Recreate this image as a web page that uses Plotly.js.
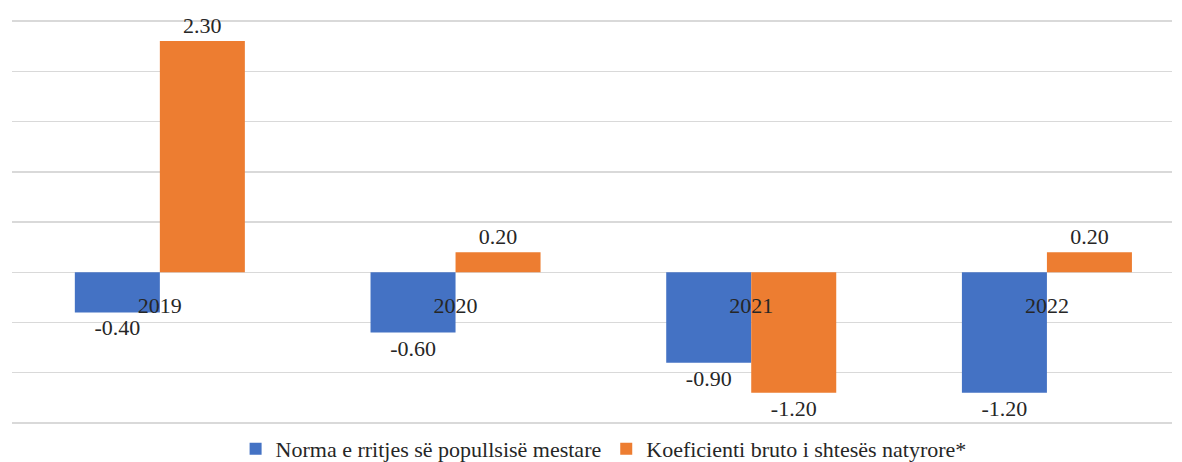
<!DOCTYPE html>
<html>
<head>
<meta charset="utf-8">
<script src="https://cdn.plot.ly/plotly-3.0.1.min.js"></script>
<style>html,body{margin:0;padding:0;background:#fff;}#chart{width:1182px;height:462px;}</style>
</head>
<body>
<div id="chart"></div>
<script>
var years = ["2019", "2020", "2021", "2022"];
var seriesNames = ["Norma e rritjes së popullsisë mestare", "Koeficienti bruto i shtesës natyrore*"];
var normaValues = [-0.40, -0.60, -0.90, -1.20];
var koeficientiValues = [2.30, 0.20, -1.20, 0.20];
var colors = ["#4472C4", "#ED7D31"];

var FONT = "Liberation Serif";
var FS = 22;
function mk(name, vals, col) {
  return {
    type: "bar", name: name, x: years, y: vals,
    marker: {color: col},
    text: vals.map(function(v){return v.toFixed(2);}),
    textposition: "outside", cliponaxis: false,
    textfont: {family: FONT, size: FS, color: "#262626"},
    hoverinfo: "x+y"
  };
}
var data = [mk(seriesNames[0], normaValues, colors[0]), mk(seriesNames[1], koeficientiValues, colors[1])];
var layout = {
  width: 1182, height: 462,
  margin: {l: 12, r: 10, t: 18, b: 36, autoexpand: false},
  barmode: "group", bargap: 0.425, bargroupgap: 0,
  paper_bgcolor: "#fff", plot_bgcolor: "#fff",
  font: {family: FONT, size: FS, color: "#262626"},
  xaxis: {type: "category", range: [-0.5, 3.423], anchor: "free", position: 0.3768, showline: false, ticks: "", ticklen: 0,
          showgrid: false, tickfont: {family: FONT, size: FS, color: "#262626"}, ticklabelstandoff: 18},
  yaxis: {range: [-1.53, 2.53], dtick: 0.5, tick0: 0, showticklabels: false, showgrid: true, gridcolor: "#d9d9d9", gridwidth: 1.5,
          zeroline: true, zerolinecolor: "#d9d9d9", zerolinewidth: 1.5, showline: false},
  showlegend: true,
  legend: {orientation: "h", x: 0.51, xanchor: "center", yref: "container", y: 0.028, yanchor: "middle",
           font: {family: FONT, size: FS, color: "#262626"}, itemwidth: 30, tracegroupgap: 0}
};
Plotly.newPlot("chart", data, layout, {displayModeBar: false, staticPlot: true});
</script>
</body>
</html>
